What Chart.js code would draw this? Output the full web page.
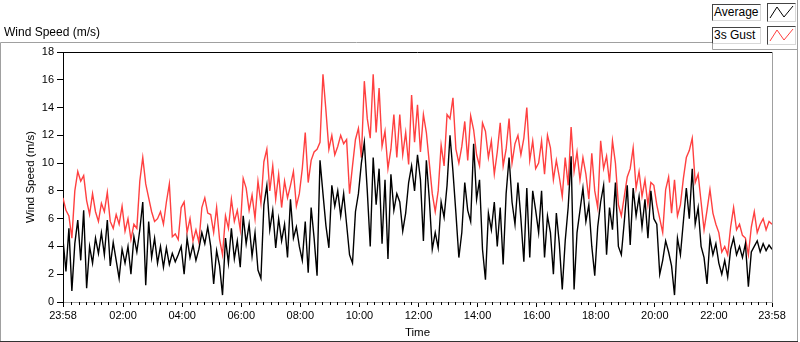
<!DOCTYPE html>
<html>
<head>
<meta charset="utf-8">
<script src="https://cdn.jsdelivr.net/npm/chart.js@4.4.0/dist/chart.umd.min.js"></script>
<style>
    body { margin: 0; background: #fff; }
    #wrap { position: relative; width: 800px; height: 342px; font-family: "Liberation Sans", Arial, sans-serif; color: #000; }
    #chartTitle { position: absolute; left: 4px; top: 25px; font-size: 12px; white-space: nowrap; }
    .legText { position: absolute; left: 712px; width: 46px; height: 15px; border: 1px solid; border-color: #444 #d8d8d8 #d8d8d8 #444; background: #fff; font-size: 12px; line-height: 15px; padding-left: 1px; white-space: nowrap; }
    .legSample { position: absolute; left: 767px; width: 27px; height: 17px; border: 1px solid; border-color: #444 #d8d8d8 #d8d8d8 #444; background: #fff; }
    .legSample svg { display: block; }
</style>
</head>
<body>
<div id="wrap">
    <canvas id="windChart" width="800" height="342"></canvas>
    <div id="chartTitle">Wind Speed (m/s)</div>
    <div class="legText" style="top:4px">Average</div>
    <div class="legSample" style="top:3px"><svg width="27" height="17"><polyline points="2,14 9,3 16,13 25,2" fill="none" stroke="#000" stroke-width="1"/></svg></div>
    <div class="legText" style="top:27px">3s Gust</div>
    <div class="legSample" style="top:26px"><svg width="27" height="17"><polyline points="2,14 9,3 16,13 25,2" fill="none" stroke="#ff4040" stroke-width="1"/></svg></div>
</div>
<script>
// ===== Datos (lecturas cada 6 minutos, 23:58 -> 23:58) =====
const SAMPLE_MINUTES = 6;

const averageSpeed = [
    4.5, 2.2, 5.3, 0.8, 4.2, 5.9, 3.0, 6.6, 1.0, 4.0, 2.8, 4.6, 3.5, 5.0, 3.4, 5.9, 2.6, 4.3, 3.0, 1.7,
    3.8, 2.8, 4.0, 2.0, 4.7, 3.6, 5.2, 7.2, 1.2, 5.8, 3.2, 4.6, 2.8, 4.0, 2.5, 3.9, 2.7, 3.5, 2.9, 3.4,
    4.0, 2.0, 4.6, 3.2, 4.1, 3.0, 3.8, 5.0, 4.2, 5.4, 4.0, 1.3, 3.7, 2.6, 0.5, 4.6, 2.8, 5.3, 3.1, 4.4,
    2.5, 6.2, 4.2, 5.6, 3.3, 5.0, 2.3, 1.7, 7.0, 8.4, 5.2, 6.6, 3.9, 6.0, 4.4, 5.6, 3.2, 7.4, 4.6, 5.4, 4.0,
    3.0, 5.8, 2.1, 6.8, 4.6, 1.9, 10.2, 7.8, 5.5, 3.9, 8.4, 6.9, 8.0, 6.2, 7.8, 5.6, 3.4, 2.8, 6.5, 7.8,
    10.0, 11.5, 8.0, 4.0, 10.4, 7.0, 9.6, 4.2, 8.8, 3.1, 9.2, 6.6, 7.8, 7.2, 5.1, 6.4, 8.6, 9.8, 8.0, 10.6,
    8.8, 4.4, 10.2, 7.4, 3.8, 5.0, 3.9, 7.2, 6.1, 8.4, 12.0, 9.4, 6.4, 3.2, 5.0, 8.6, 6.6, 5.8, 11.4, 7.4,
    8.8, 3.8, 1.6, 6.4, 5.2, 7.2, 4.0, 6.8, 2.7, 7.8, 10.4, 7.2, 5.6, 8.6, 6.0, 2.9, 8.2, 3.2, 8.0, 6.6, 5.0,
    8.0, 3.2, 6.2, 5.0, 2.0, 6.4, 4.2, 0.9, 4.4, 6.8, 10.5, 0.9, 5.0, 6.6, 8.2, 5.8, 7.0, 4.0, 1.9, 5.4,
    7.2, 8.4, 3.4, 6.8, 5.2, 8.6, 4.0, 3.4, 5.8, 8.4, 4.1, 8.2, 6.2, 7.6, 5.4, 7.4, 4.6, 8.0, 6.0, 5.6, 2.0,
    3.0, 4.4, 3.6, 2.6, 0.5, 4.6, 3.4, 5.8, 8.2, 6.0, 9.6, 5.6, 6.8, 4.0, 3.2, 1.3, 4.6, 3.4, 4.2, 2.8,
    2.0, 3.0, 1.8, 3.8, 4.6, 3.4, 4.0, 3.2, 4.2, 1.1, 3.6, 4.0, 4.4, 3.6, 4.2, 3.7, 4.1, 3.8
];

const gustSpeed = [
    7.5, 6.6, 6.2, 4.6, 8.0, 9.4, 8.7, 9.1, 7.3, 6.3, 7.8, 6.5, 5.8, 7.1, 6.5, 7.9, 5.8, 5.3, 6.3, 5.6,
    6.9, 5.1, 6.0, 4.5, 5.6, 5.3, 8.7, 10.4, 8.5, 7.5, 6.5, 5.8, 6.0, 6.5, 5.6, 7.2, 8.5, 4.7, 4.9, 4.5,
    6.8, 7.2, 5.0, 6.0, 4.4, 5.2, 4.3, 6.8, 7.5, 6.4, 6.3, 5.0, 6.8, 4.5, 3.4, 6.2, 5.3, 7.4, 5.8, 6.6,
    5.2, 8.9, 8.2, 6.6, 7.7, 6.0, 8.7, 7.1, 10.1, 11.0, 8.0, 9.8, 7.4, 9.2, 6.8, 8.7, 7.5, 8.4, 9.4, 6.9, 7.8,
    9.6, 12.2, 8.6, 10.2, 10.8, 11.0, 11.5, 16.4, 13.8, 11.0, 12.0, 10.6, 11.2, 12.0, 11.4, 11.7, 7.8, 9.8, 11.7, 12.5,
    10.4, 15.9, 13.2, 11.8, 16.4, 12.2, 15.4, 11.2, 12.3, 9.6, 11.0, 13.5, 10.4, 13.5, 10.6, 12.2, 9.9, 14.9, 11.5, 14.2,
    10.8, 13.5, 12.2, 10.0, 7.8, 6.5, 8.0, 11.3, 9.8, 13.5, 13.2, 14.7, 11.0, 10.0, 11.2, 13.0, 10.2, 13.4, 12.4, 10.6,
    9.8, 12.9, 12.3, 10.4, 11.6, 9.2, 10.8, 12.9, 9.8, 11.0, 13.2, 10.0, 11.4, 12.0, 10.6, 11.8, 14.0, 10.2, 11.6, 9.6, 10.0,
    11.6, 9.2, 12.0, 11.1, 8.8, 10.2, 9.0, 7.6, 10.4, 8.4, 12.6, 9.4, 10.8, 8.8, 10.4, 9.2, 7.4, 10.7, 8.0, 6.8,
    11.6, 9.6, 10.5, 8.6, 11.6, 10.0, 7.0, 6.2, 7.6, 9.0, 9.6, 11.1, 8.2, 9.4, 7.6, 8.8, 7.0, 8.6, 8.4, 7.0, 6.0,
    5.0, 8.1, 9.0, 6.4, 8.8, 6.2, 7.0, 8.9, 10.4, 10.9, 11.8, 8.6, 9.2, 7.2, 5.2, 6.6, 8.1, 6.4, 5.6, 5.0,
    3.6, 4.0, 3.4, 5.4, 6.8, 5.2, 5.6, 4.8, 4.6, 3.4, 5.4, 6.5, 5.0, 5.6, 6.0, 5.2, 5.8, 5.6
];

// minutos desde 23:58
const tickMinutes = [0, 122, 242, 362, 482, 602, 722, 842, 962, 1082, 1202, 1322, 1440];
const tickLabels = ['23:58', '02:00', '04:00', '06:00', '08:00', '10:00', '12:00', '14:00', '16:00', '18:00', '20:00', '22:00', '23:58'];

const toPoints = arr => arr.map((v, i) => ({ x: i * SAMPLE_MINUTES, y: v }));

const FONT = 'Liberation Sans';

// Marco estilo panel + bordes superior/derecho + ticks menores
const framePlugin = {
    id: 'frame',
    beforeDraw(chart) {
        const ctx = chart.ctx;
        ctx.save();
        ctx.strokeStyle = '#a0a0a0';
        ctx.lineWidth = 1;
        ctx.beginPath();
        ctx.moveTo(0.5, 341);
        ctx.lineTo(0.5, 42.5);
        ctx.lineTo(712.5, 42.5);
        ctx.lineTo(712.5, 49.5);
        ctx.lineTo(797.5, 49.5);
        ctx.moveTo(797.5, 0);
        ctx.lineTo(797.5, 341);
        ctx.stroke();
        ctx.strokeStyle = '#333';
        ctx.beginPath();
        ctx.moveTo(0, 341.5);
        ctx.lineTo(798, 341.5);
        ctx.stroke();
        ctx.restore();
    },
    afterDraw(chart) {
        const ctx = chart.ctx;
        const a = chart.chartArea;
        const xs = chart.scales.x;
        ctx.save();
        ctx.lineWidth = 1;
        ctx.strokeStyle = '#000';
        ctx.beginPath();
        ctx.moveTo(a.left, Math.round(a.top) + 0.5);
        ctx.lineTo(a.right, Math.round(a.top) + 0.5);
        ctx.stroke();
        ctx.strokeStyle = '#a0a0a0';
        ctx.beginPath();
        ctx.moveTo(Math.round(a.right) + 0.5, a.top);
        ctx.lineTo(Math.round(a.right) + 0.5, a.bottom);
        ctx.stroke();
        // ticks menores cada 15 min
        ctx.strokeStyle = '#000';
        ctx.beginPath();
        for (let m = 17; m < 1440; m += 15) {
            if (tickMinutes.some(t => Math.abs(t - m) < 4)) continue;
            const px = Math.round(xs.getPixelForValue(m)) + 0.5;
            ctx.moveTo(px, a.bottom);
            ctx.lineTo(px, a.bottom + 3);
        }
        ctx.stroke();
        ctx.restore();
    }
};

new Chart(document.getElementById('windChart'), {
    type: 'line',
    data: {
        datasets: [
            {
                label: 'Average',
                data: toPoints(averageSpeed),
                borderColor: '#000000',
                borderWidth: 1.4,
                pointRadius: 0,
                tension: 0
            },
            {
                label: '3s Gust',
                data: toPoints(gustSpeed),
                borderColor: '#ff4040',
                borderWidth: 1.4,
                pointRadius: 0,
                tension: 0
            }
        ]
    },
    options: {
        responsive: false,
        animation: false,
        events: [],
        layout: { padding: { top: 52, right: 28, left: 0, bottom: 0 } },
        plugins: {
            legend: { display: false },
            tooltip: { enabled: false }
        },
        scales: {
            x: {
                type: 'linear',
                min: 0,
                max: 1440,
                afterBuildTicks: scale => {
                    scale.ticks = tickMinutes.map(v => ({ value: v }));
                },
                afterFit: scale => { scale.height = 40; },
                ticks: {
                    autoSkip: false,
                    maxRotation: 0,
                    padding: 2,
                    color: '#000',
                    font: { family: FONT, size: 11 },
                    callback: value => tickLabels[tickMinutes.indexOf(value)]
                },
                grid: { drawOnChartArea: false, tickLength: 5, tickColor: '#000' },
                border: { color: '#a0a0a0', width: 1 },
                title: {
                    display: true,
                    text: 'Time',
                    color: '#000',
                    font: { family: FONT, size: 11.5 },
                    padding: { top: 0, bottom: 2 }
                }
            },
            y: {
                min: 0,
                max: 18,
                afterFit: scale => { scale.width = 63; },
                ticks: {
                    stepSize: 2,
                    padding: 3,
                    color: '#000',
                    font: { family: FONT, size: 11 }
                },
                grid: { drawOnChartArea: false, tickLength: 6, tickColor: '#000' },
                border: { color: '#000', width: 1 },
                title: {
                    display: true,
                    text: 'Wind Speed (m/s)',
                    color: '#000',
                    font: { family: FONT, size: 11.5 },
                    padding: { top: 24, bottom: 0 }
                }
            }
        }
    },
    plugins: [framePlugin]
});
</script>
</body>
</html>
